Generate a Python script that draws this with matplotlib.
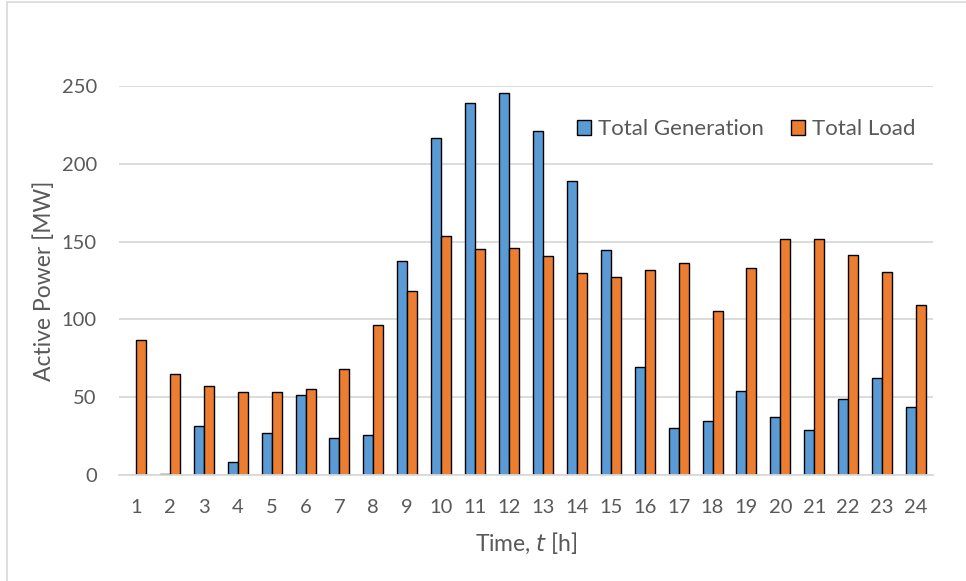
import matplotlib
matplotlib.use("Agg")
import matplotlib.pyplot as plt
import numpy as np
from matplotlib.patches import Rectangle

# Hourly totals for the 24-hour horizon
hours = list(range(1, 25))
total_generation = [0.0, 0.5, 31.5, 8.4, 27.0, 51.2, 24.0, 25.5, 137.5, 216.8,
                    239.3, 245.8, 220.9, 189.2, 144.6, 69.7, 30.0, 35.0, 54.2, 37.3,
                    28.7, 48.6, 62.6, 43.5]
total_load = [86.6, 65.2, 57.2, 53.4, 53.4, 55.3, 67.9, 96.4, 118.1, 153.4,
              145.1, 146.1, 140.6, 130.1, 127.1, 131.6, 136.3, 105.7, 132.8, 151.9,
              151.5, 141.2, 130.5, 109.3]
y_ticks = [0, 50, 100, 150, 200, 250]

plt.rcParams['font.family'] = ['Lato', 'DejaVu Sans']
text_color = '#595959'
grid_color = '#d9d9d9'

fig = plt.figure(figsize=(9.66, 5.81), dpi=100)
ax = fig.add_axes([119 / 966, 1 - 475 / 581, (933 - 119) / 966, (475 - 86) / 581])

# Chart-area border
fig.patches.append(Rectangle((7 / 966, -0.05), 1.1, 1 - 1.5 / 581 + 0.05,
                             transform=fig.transFigure, fill=False,
                             edgecolor=grid_color, linewidth=1.2))

x = np.array(hours, dtype=float)
w = 0.295
ax.bar(x - w / 2, total_generation, width=w, color='#5B9BD5', edgecolor='black',
       linewidth=1.0, label='Total Generation', zorder=3)
ax.bar(x + w / 2, total_load, width=w, color='#ED7D31', edgecolor='black',
       linewidth=1.0, label='Total Load', zorder=3)

ax.set_xlim(0.5, 24.5)
ax.set_ylim(0, 250)
ax.set_yticks(y_ticks)
ax.set_xticks(hours)
ax.set_xticklabels([str(h) for h in hours])
ax.yaxis.grid(True, color=grid_color, linewidth=1.3, zorder=0)
ax.set_axisbelow(True)

for side in ('top', 'right', 'left'):
    ax.spines[side].set_visible(False)
ax.spines['bottom'].set_color(grid_color)
ax.spines['bottom'].set_linewidth(1.3)
ax.spines['bottom'].set_zorder(4)

ax.tick_params(axis='both', length=0, labelsize=14.5, labelcolor=text_color)
ax.tick_params(axis='y', pad=16)
ax.tick_params(axis='x', pad=17)

ax.set_ylabel('Active Power [MW]', fontsize=16.5, color=text_color, labelpad=5)
ax.set_xlabel(r'Time, $\mathit{t}$ [h]', fontsize=16.5, color=text_color, labelpad=11)

leg = ax.legend(loc='center left', bbox_to_anchor=(577 / 966, 1 - 129 / 581),
                bbox_transform=fig.transFigure, ncol=2, frameon=False,
                fontsize=16, handlelength=0.65, handleheight=0.65,
                handletextpad=0.3, columnspacing=1.2, borderpad=0, borderaxespad=0)
for t in leg.get_texts():
    t.set_color(text_color)

fig.savefig('out.png', dpi=100, facecolor='white')
